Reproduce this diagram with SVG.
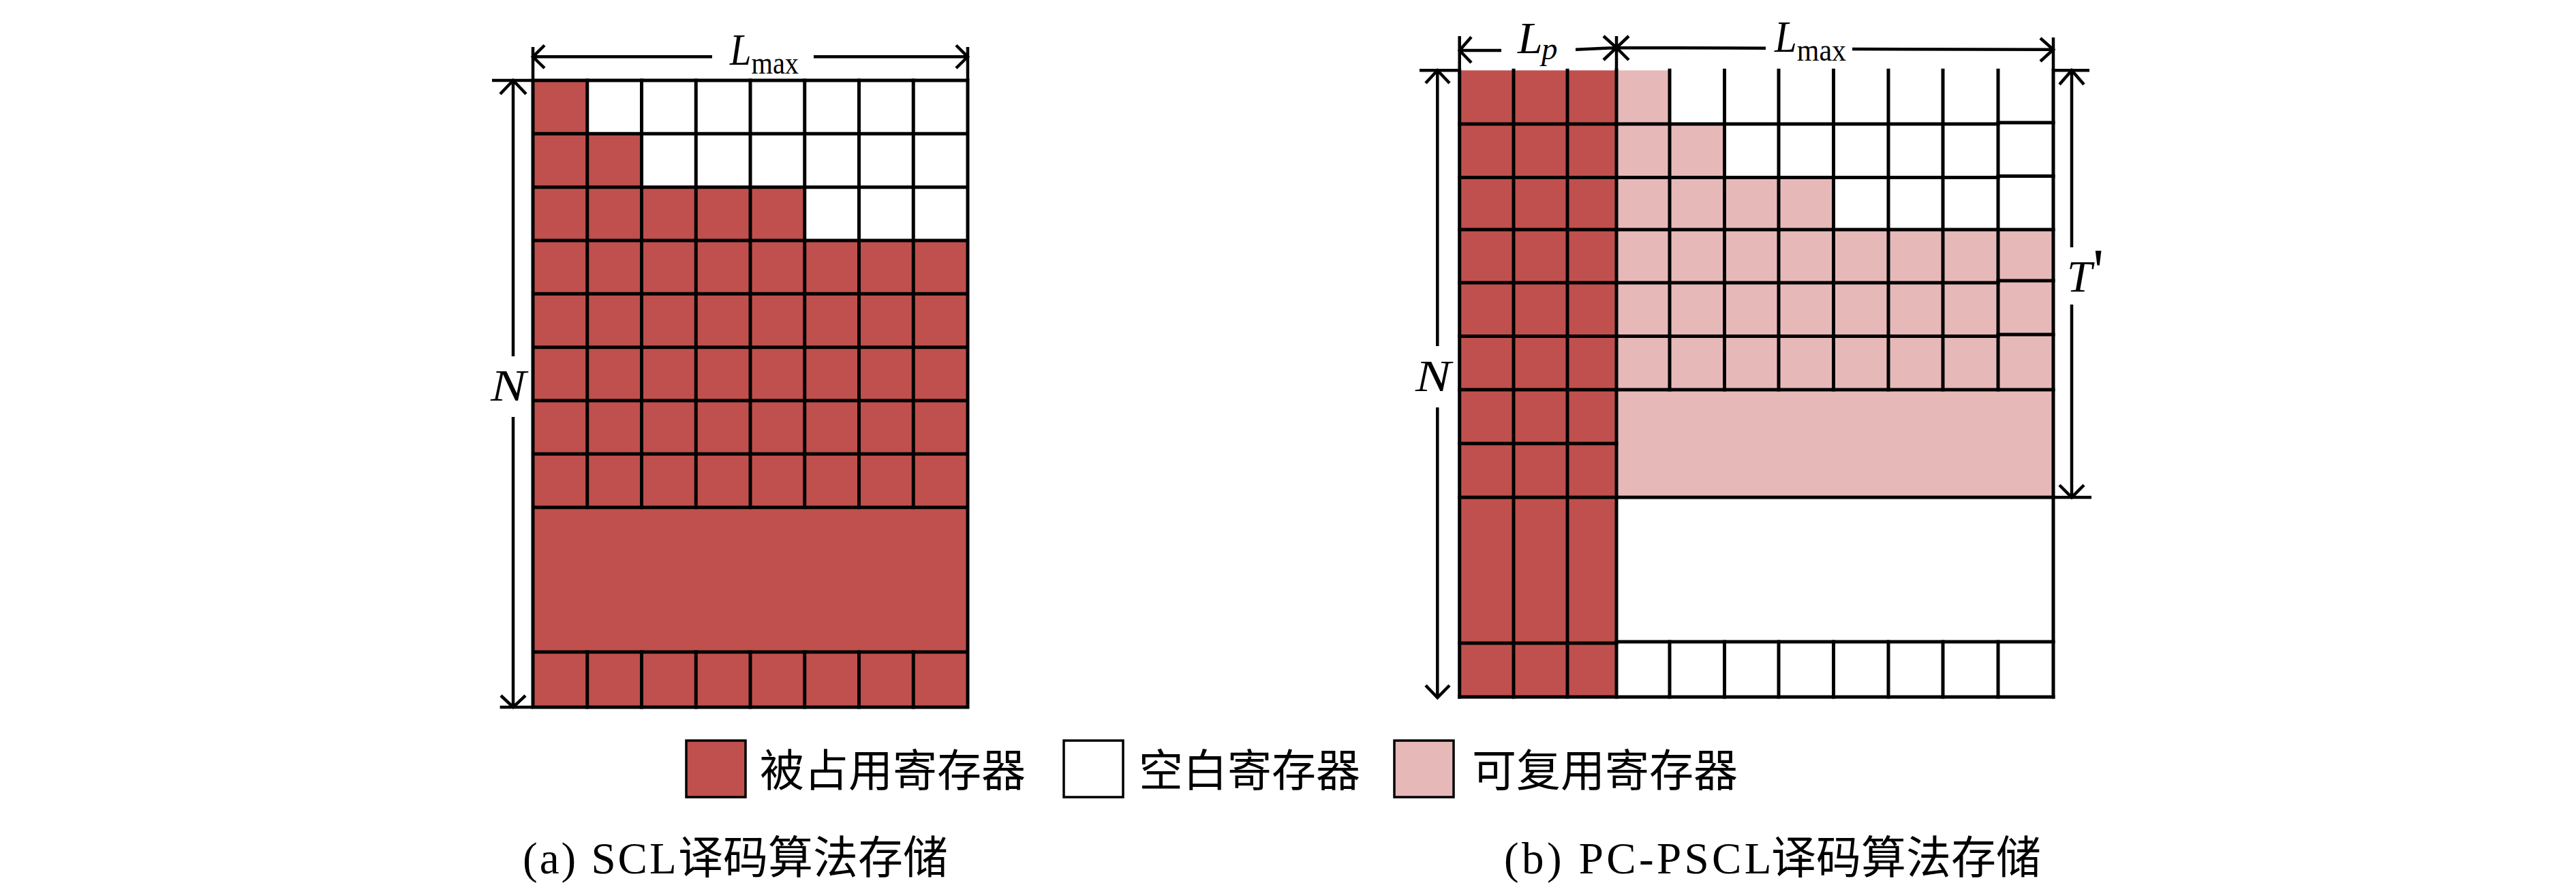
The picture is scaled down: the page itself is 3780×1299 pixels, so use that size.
<svg xmlns="http://www.w3.org/2000/svg" width="3780" height="1299" viewBox="0 0 3780 1299">
<style>
.red{fill:#C0504D}
.pink{fill:#E6B9B8}
.white{fill:#FFFFFF}
.ln{stroke:#000;stroke-width:4.5;fill:none;stroke-linecap:butt;stroke-linejoin:miter}
.gl{stroke:#000;stroke-width:5;fill:none;stroke-linecap:square}
.box{stroke:#000;stroke-width:3.5}
.math{font-family:"Liberation Serif","Times New Roman",serif;font-style:italic;font-size:66px;fill:#000}
.rm{font-style:normal}
.txt{font-family:"Liberation Serif","Noto Sans CJK SC",serif;font-size:65px;fill:#000}
.cjk{font-family:"Noto Sans CJK SC","Liberation Serif",sans-serif}
</style>
<rect width="3780" height="1299" fill="#FFFFFF"/>

<g id="fig-a">
  <rect class="white" x="782" y="118" width="638" height="920"/>
  <rect class="red" x="782" y="118" width="79.75" height="78.3"/>
  <rect class="red" x="782" y="196.3" width="159.5" height="78.4"/>
  <rect class="red" x="782" y="274.7" width="398.75" height="78.3"/>
  <rect class="red" x="782" y="353" width="638" height="685"/>
  <path class="gl" d="M782 118H1420 M782 196.3H1420 M782 274.7H1420 M782 353H1420 M782 431.3H1420 M782 509.7H1420 M782 588H1420 M782 666.3H1420 M782 744.7H1420 M782 957H1420 M782 1038H1420 M782 118V1038 M1420 118V1038"/>
  <path class="gl" d="M861.75 118V744.7 M941.5 118V744.7 M1021.25 118V744.7 M1101 118V744.7 M1180.75 118V744.7 M1260.5 118V744.7 M1340.25 118V744.7 M861.75 957V1038 M941.5 957V1038 M1021.25 957V1038 M1101 957V1038 M1180.75 957V1038 M1260.5 957V1038 M1340.25 957V1038"/>
</g>

<g id="fig-b">
  <rect class="red" x="2141.7" y="103.3" width="230.3" height="919.7"/>
  <rect class="white" x="2372" y="103.3" width="641" height="919.7"/>
  <rect class="pink" x="2372" y="103.3" width="78" height="78.7"/>
  <rect class="pink" x="2372" y="182" width="158.5" height="78.5"/>
  <rect class="pink" x="2372" y="260.5" width="318.5" height="76.5"/>
  <rect class="pink" x="2372" y="337" width="641" height="393"/>
  <path class="gl" d="M2141.7 182H2372 M2141.7 260.5H2372 M2141.7 337H2372 M2141.7 415H2372 M2141.7 493.5H2372 M2141.7 572H2372 M2141.7 651H2372 M2141.7 730H2372 M2141.7 944H2372 M2141.7 1023H3013"/>
  <path class="gl" d="M2372 182H2932 M2932 180H3013 M2372 260.5H2932 M2932 258.5H3013 M2372 337H3013 M2372 415H2932 M2932 412H3013 M2372 493.5H2932 M2932 491H3013 M2372 572H3013 M2372 730H3013 M2372 942H3013"/>
  <path class="gl" d="M2141.7 103.3V1023 M2221 103.3V1023 M2300 103.3V1023 M2372 103.3V1023 M3013 103.3V1023"/>
  <path class="gl" d="M2450 103.3V572 M2530.5 103.3V572 M2610 103.3V572 M2690.5 103.3V572 M2771 103.3V572 M2851 103.3V572 M2932 103.3V572 M2450 942V1023 M2530.5 942V1023 M2610 942V1023 M2690.5 942V1023 M2771 942V1023 M2851 942V1023 M2932 942V1023"/>
</g>

<g id="connectors">
  <path class="ln" d="M722 118H782 M733.6 1038H782 M782 69V118 M1420 69V118"/>
  <path class="ln" d="M782 83.3H1045 M1194 83.3H1420 M799 66.5L782 83.3L799 100 M1403 66.5L1420 83.3L1403 100"/>
  <path class="ln" d="M753 118V523 M753 612V1038 M734 138L753 118L772 138 M735 1021L753 1038L771 1021"/>
  <path class="ln" d="M2083 103.3H2141.7 M3013 103.3H3066 M3013 730H3069 M2141.7 53V103.3 M2372 53V103.3 M3013 55V103.3"/>
  <path class="ln" d="M2141.7 74H2203 M2312 72.7L2372 70 M2159 54.3L2141.7 74L2159 92 M2353 53L2372 70L2353 88"/>
  <path class="ln" d="M2372 70L2591 70.8 M2718 72L3013 72.7 M2390 53L2372 70L2390 88 M2994 56L3013 72.7L2994 90"/>
  <path class="ln" d="M2109.3 103.3V508 M2109.3 598V1024 M2092 122L2109.3 103.3L2127 122 M2092 1006L2109.3 1024L2127 1006"/>
  <path class="ln" d="M3040 103.3V363 M3040 447V730 M3022 124L3040 103.3L3058 124 M3022 712L3040 730L3058 712"/>
</g>

<g id="labels">
  <text class="math" x="1071" y="95" textLength="101" lengthAdjust="spacingAndGlyphs">L<tspan class="rm" font-size="47" dy="13">max</tspan></text>
  <text class="math" x="720" y="588" font-size="68" textLength="52" lengthAdjust="spacingAndGlyphs">N</text>
  <text class="math" x="2227" y="78">L<tspan font-size="47" x="2262" y="87">p</tspan></text>
  <text class="math" x="2604" y="76" textLength="105" lengthAdjust="spacingAndGlyphs">L<tspan class="rm" font-size="47" dy="13">max</tspan></text>
  <text class="math" x="2077" y="574" font-size="68" textLength="52" lengthAdjust="spacingAndGlyphs">N</text>
  <text class="math" x="3033" y="428" font-size="68">T<tspan class="rm" x="3071" font-size="90">'</tspan></text>
</g>

<g id="legend">
  <g id="legend-occupied">
    <rect class="red box" x="1007" y="1087" width="87" height="83"/>
    <text class="txt cjk" x="1115" y="1154">被占用寄存器</text>
  </g>
  <g id="legend-empty">
    <rect class="white box" x="1561" y="1087" width="87" height="83"/>
    <text class="txt cjk" x="1671" y="1154">空白寄存器</text>
  </g>
  <g id="legend-reusable">
    <rect class="pink box" x="2046" y="1087" width="87" height="83"/>
    <text class="txt cjk" x="2160" y="1154">可复用寄存器</text>
  </g>
</g>

<g id="captions">
  <text class="txt" x="767" y="1282" font-size="64"><tspan letter-spacing="3">(a) SCL</tspan><tspan class="cjk" x="995" font-size="66">译码算法存储</tspan></text>
  <text class="txt" x="2207" y="1282" font-size="64"><tspan letter-spacing="4.4">(b) PC-PSCL</tspan><tspan class="cjk" x="2599" font-size="66">译码算法存储</tspan></text>
</g>
</svg>
